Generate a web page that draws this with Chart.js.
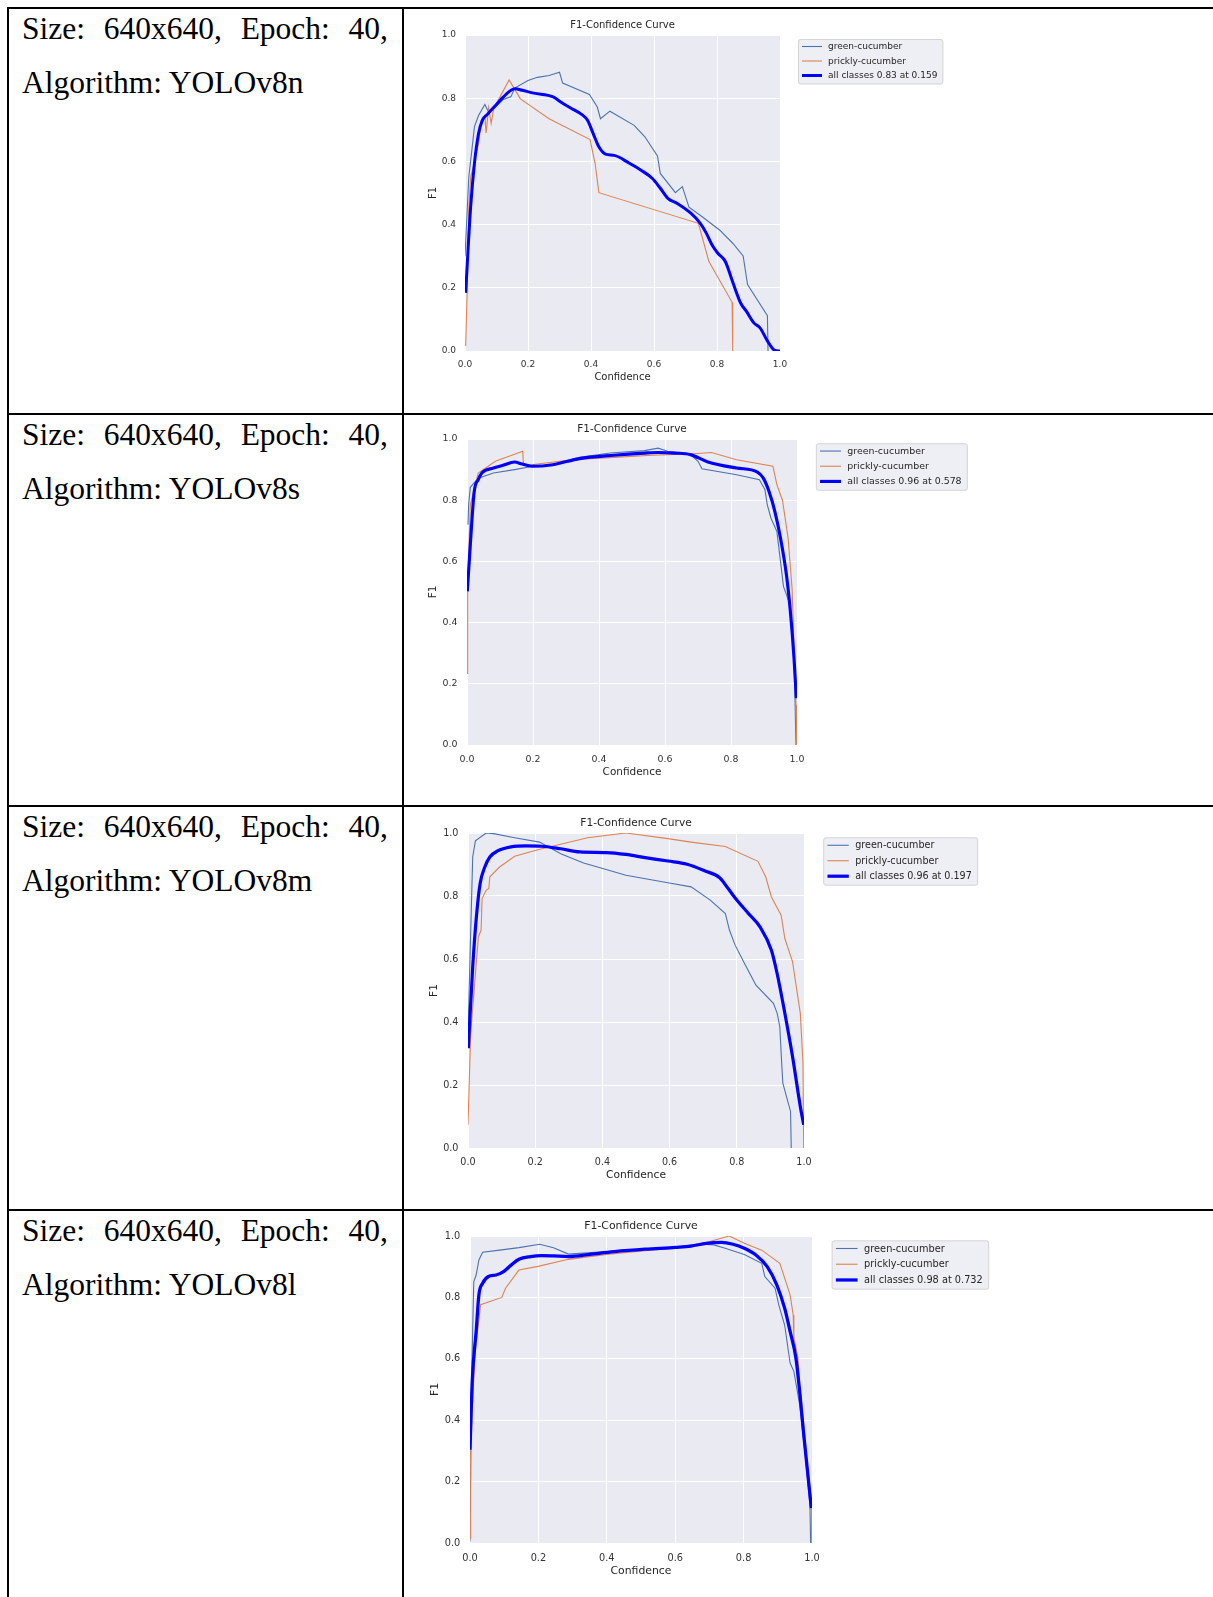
<!DOCTYPE html>
<html>
<head>
<meta charset="utf-8">
<script src="https://cdn.jsdelivr.net/npm/chart.js@4.4.1/dist/chart.umd.min.js"></script>
<style>
  html, body { margin: 0; padding: 0; background: #fff; }
  #page { position: relative; width: 1213px; height: 1597px; overflow: hidden; }
  .rule { position: absolute; background: #000; }
  .cell-text {
    position: absolute; left: 22px; width: 366px;
    font-family: 'Liberation Serif', 'Times New Roman', serif;
    font-size: 31.5px; line-height: 54px; text-align: justify; color: #000;
  }
  canvas { position: absolute; }
</style>
</head>
<body>
<div id="page"></div>
<script>
// ---- data ----
const modelNames = ['YOLOv8n', 'YOLOv8s', 'YOLOv8m', 'YOLOv8l'];
const imgSize = '640x640';
const epochs = 40;
const classNames = ['green-cucumber', 'prickly-cucumber'];
const bestF1 = [0.83, 0.96, 0.96, 0.98];
const bestConf = [0.159, 0.578, 0.197, 0.732];
const tickValues = [0, 0.2, 0.4, 0.6, 0.8, 1.0];

// [confidence, F1]
const v8nGreen = [[0.0,0.3],[0.012,0.55],[0.02,0.62],[0.03,0.71],[0.043,0.745],[0.063,0.78],[0.075,0.756],[0.09,0.765],[0.12,0.795],[0.146,0.805],[0.158,0.832],[0.2,0.856],[0.23,0.866],[0.267,0.872],[0.3,0.882],[0.31,0.848],[0.395,0.812],[0.42,0.772],[0.43,0.735],[0.46,0.759],[0.537,0.714],[0.571,0.678],[0.611,0.617],[0.62,0.562],[0.668,0.501],[0.69,0.52],[0.711,0.455],[0.753,0.425],[0.808,0.383],[0.85,0.341],[0.883,0.301],[0.897,0.21],[0.96,0.112],[0.962,0.0]];
const v8nPrickly = [[0.002,0.016],[0.007,0.19],[0.012,0.45],[0.018,0.55],[0.028,0.59],[0.043,0.656],[0.052,0.73],[0.063,0.745],[0.067,0.69],[0.075,0.77],[0.083,0.72],[0.091,0.767],[0.14,0.858],[0.176,0.798],[0.267,0.735],[0.397,0.669],[0.413,0.594],[0.425,0.501],[0.741,0.404],[0.774,0.284],[0.848,0.154],[0.85,0.0]];
const v8nAll = [[0.002,0.184],[0.018,0.457],[0.03,0.594],[0.043,0.688],[0.055,0.73],[0.073,0.751],[0.097,0.777],[0.122,0.804],[0.146,0.825],[0.159,0.83],[0.182,0.825],[0.219,0.816],[0.28,0.804],[0.304,0.788],[0.334,0.77],[0.37,0.749],[0.389,0.73],[0.407,0.688],[0.425,0.646],[0.446,0.623],[0.474,0.619],[0.522,0.594],[0.559,0.572],[0.595,0.546],[0.62,0.515],[0.644,0.483],[0.674,0.467],[0.717,0.436],[0.747,0.404],[0.766,0.373],[0.784,0.336],[0.802,0.31],[0.826,0.284],[0.851,0.215],[0.875,0.152],[0.893,0.126],[0.917,0.089],[0.936,0.074],[0.96,0.032],[0.982,0.003],[1.0,0.0]];

const v8sGreen = [[0.003,0.72],[0.005,0.785],[0.01,0.842],[0.034,0.872],[0.08,0.889],[0.144,0.9],[0.196,0.91],[0.26,0.916],[0.341,0.94],[0.434,0.954],[0.538,0.962],[0.579,0.97],[0.608,0.96],[0.677,0.949],[0.7,0.927],[0.712,0.903],[0.817,0.883],[0.886,0.867],[0.903,0.834],[0.91,0.785],[0.921,0.742],[0.939,0.698],[0.95,0.6],[0.959,0.518],[0.979,0.458],[0.991,0.294],[0.997,0.0]];
const v8sPrickly = [[0.0,0.234],[0.002,0.5],[0.01,0.785],[0.034,0.889],[0.086,0.927],[0.169,0.96],[0.171,0.916],[0.196,0.916],[0.318,0.932],[0.445,0.94],[0.561,0.947],[0.677,0.951],[0.741,0.956],[0.817,0.932],[0.927,0.911],[0.939,0.851],[0.956,0.8],[0.973,0.676],[0.985,0.513],[0.997,0.131],[0.999,0.0]];
const v8sAll = [[0.001,0.502],[0.01,0.654],[0.022,0.829],[0.034,0.867],[0.045,0.889],[0.08,0.905],[0.109,0.914],[0.144,0.925],[0.167,0.918],[0.196,0.911],[0.26,0.916],[0.341,0.936],[0.445,0.947],[0.538,0.954],[0.579,0.956],[0.631,0.954],[0.677,0.949],[0.73,0.925],[0.817,0.905],[0.88,0.892],[0.898,0.872],[0.915,0.829],[0.933,0.763],[0.95,0.676],[0.968,0.556],[0.979,0.447],[0.991,0.284],[0.998,0.153]];

const v8mGreen = [[0.0,0.364],[0.014,0.924],[0.022,0.975],[0.054,1.0],[0.076,0.998],[0.139,0.985],[0.213,0.971],[0.276,0.934],[0.344,0.905],[0.401,0.887],[0.47,0.866],[0.595,0.842],[0.664,0.829],[0.721,0.787],[0.766,0.744],[0.778,0.692],[0.795,0.644],[0.823,0.586],[0.857,0.517],[0.909,0.459],[0.92,0.428],[0.928,0.385],[0.932,0.301],[0.937,0.206],[0.96,0.116],[0.962,0.0]];
const v8mPrickly = [[0.0,0.074],[0.008,0.364],[0.019,0.512],[0.031,0.67],[0.039,0.692],[0.042,0.792],[0.054,0.818],[0.062,0.824],[0.065,0.861],[0.094,0.892],[0.139,0.926],[0.208,0.947],[0.356,0.985],[0.47,1.0],[0.595,0.982],[0.664,0.971],[0.766,0.957],[0.863,0.91],[0.886,0.861],[0.903,0.797],[0.932,0.739],[0.943,0.665],[0.966,0.591],[0.977,0.512],[0.989,0.428],[0.997,0.269],[0.999,0.0]];
const v8mAll = [[0.001,0.317],[0.014,0.575],[0.025,0.734],[0.036,0.839],[0.05,0.892],[0.065,0.924],[0.088,0.943],[0.128,0.956],[0.173,0.959],[0.219,0.958],[0.276,0.95],[0.333,0.94],[0.413,0.938],[0.47,0.932],[0.527,0.922],[0.595,0.911],[0.652,0.901],[0.704,0.88],[0.749,0.858],[0.772,0.827],[0.8,0.787],[0.835,0.744],[0.869,0.702],[0.903,0.628],[0.92,0.554],[0.943,0.428],[0.966,0.29],[0.989,0.132],[0.999,0.074]];

const v8lGreen = [[0.0,0.005],[0.004,0.5],[0.011,0.851],[0.018,0.873],[0.026,0.922],[0.037,0.947],[0.087,0.954],[0.143,0.962],[0.204,0.973],[0.244,0.962],[0.288,0.941],[0.4,0.949],[0.512,0.957],[0.601,0.963],[0.668,0.974],[0.713,0.971],[0.746,0.96],[0.802,0.94],[0.853,0.911],[0.862,0.868],[0.892,0.83],[0.903,0.775],[0.92,0.71],[0.936,0.586],[0.947,0.559],[0.964,0.45],[0.981,0.277],[0.994,0.125],[0.996,0.0]];
const v8lPrickly = [[0.0,0.016],[0.002,0.3],[0.007,0.45],[0.015,0.62],[0.031,0.776],[0.093,0.8],[0.104,0.83],[0.143,0.889],[0.199,0.901],[0.288,0.924],[0.4,0.94],[0.512,0.952],[0.601,0.96],[0.691,0.979],[0.758,1.0],[0.802,0.976],[0.853,0.954],[0.906,0.911],[0.936,0.808],[0.945,0.743],[0.947,0.667],[0.959,0.602],[0.964,0.515],[0.975,0.396],[0.987,0.244],[0.998,0.146],[0.999,0.0]];
const v8lAll = [[0.0,0.304],[0.007,0.537],[0.018,0.689],[0.026,0.808],[0.037,0.846],[0.054,0.868],[0.076,0.873],[0.098,0.884],[0.121,0.906],[0.143,0.924],[0.177,0.933],[0.21,0.936],[0.244,0.935],[0.288,0.933],[0.355,0.941],[0.422,0.949],[0.512,0.957],[0.601,0.963],[0.646,0.967],[0.691,0.976],[0.735,0.979],[0.769,0.973],[0.802,0.96],[0.836,0.938],[0.869,0.9],[0.897,0.841],[0.92,0.765],[0.936,0.689],[0.953,0.602],[0.964,0.493],[0.975,0.363],[0.987,0.233],[0.998,0.114]];

const curves = [
  [v8nGreen, v8nPrickly, v8nAll],
  [v8sGreen, v8sPrickly, v8sAll],
  [v8mGreen, v8mPrickly, v8mAll],
  [v8lGreen, v8lPrickly, v8lAll]
];

// ---- layout (page pixels) ----
const rowTops = [8, 414, 806, 1210];
const rowBottoms = [414, 806, 1210, 1597];
// plot area of each chart: left, top, right, bottom
const plotBoxes = [[465, 35, 780, 351], [467, 439, 797, 745], [468, 833, 804, 1148], [470, 1236, 812, 1543]];
const canvasLeft = 405;
const canvasWidth = 1213 - canvasLeft;

const page = document.getElementById('page');

function addRule(x, y, w, h) {
  const d = document.createElement('div');
  d.className = 'rule';
  d.style.left = x + 'px'; d.style.top = y + 'px';
  d.style.width = w + 'px'; d.style.height = h + 'px';
  page.appendChild(d);
}

// table lines
rowTops.forEach(y => addRule(7, y - 1, 1213 - 7, 2));
addRule(7, 7, 2, 1597 - 7);
addRule(402, 7, 2, 1597 - 7);

// text cells
rowTops.forEach((y, i) => {
  const d = document.createElement('div');
  d.className = 'cell-text';
  d.style.top = (y - 5.6) + 'px';
  d.textContent = `Size: ${imgSize}, Epoch: ${epochs}, Algorithm: ${modelNames[i]}`;
  page.appendChild(d);
});

Chart.defaults.font.family = '"DejaVu Sans", sans-serif';

const plotBg = {
  id: 'plotBg',
  beforeDraw(chart) {
    const { ctx, chartArea: a } = chart;
    ctx.save();
    ctx.fillStyle = '#eaeaf2';
    ctx.fillRect(a.left, a.top, a.right - a.left, a.bottom - a.top);
    ctx.restore();
  }
};

// matplotlib-like title and legend outside the axes
const mplDecor = {
  id: 'mplDecor',
  afterDraw(chart, args, opts) {
    const { ctx, chartArea: a } = chart;
    const s = opts.s;
    ctx.save();
    ctx.fillStyle = '#262626';
    ctx.font = `${10 * s}px "DejaVu Sans"`;
    ctx.textAlign = 'center';
    ctx.textBaseline = 'middle';
    ctx.fillText('F1-Confidence Curve', (a.left + a.right) / 2, a.top - 9.5 * s);

    ctx.font = `${9 * s}px "DejaVu Sans"`;
    const items = chart.data.datasets;
    const tw = Math.max(...items.map(d => ctx.measureText(d.label).width));
    const x0 = a.right + 18 * s, y0 = a.top + 4 * s;
    const w = 30 * s + tw + 5 * s, h = 44.5 * s;
    ctx.beginPath();
    ctx.roundRect(x0 + 0.5, y0 + 0.5, w, h, 2 * s);
    ctx.fillStyle = 'rgba(234,234,242,0.8)';
    ctx.fill();
    ctx.strokeStyle = 'rgba(204,204,204,0.8)';
    ctx.lineWidth = 1;
    ctx.stroke();
    ctx.textAlign = 'left';
    items.forEach((d, i) => {
      const y = y0 + (7.5 + 14.5 * i) * s;
      ctx.strokeStyle = d.borderColor;
      ctx.lineWidth = d.borderWidth;
      ctx.beginPath();
      ctx.moveTo(x0 + 4 * s, y);
      ctx.lineTo(x0 + 24 * s, y);
      ctx.stroke();
      ctx.fillStyle = '#262626';
      ctx.fillText(d.label, x0 + 30 * s, y + 0.5);
    });
    ctx.restore();
  }
};

function toXY(pts) {
  return pts.map(p => ({ x: p[0], y: p[1] }));
}

plotBoxes.forEach((box, i) => {
  const [L, T, R, B] = box;
  const s = (R - L) / 315;
  const top = rowTops[i] + 2;
  const height = rowBottoms[i] - top - 1;
  const yw = 38 * s, xh = 32 * s;

  const canvas = document.createElement('canvas');
  canvas.width = canvasWidth;
  canvas.height = height;
  canvas.style.left = canvasLeft + 'px';
  canvas.style.top = top + 'px';
  canvas.style.width = canvasWidth + 'px';
  canvas.style.height = height + 'px';
  page.appendChild(canvas);

  const [green, prickly, all] = curves[i];
  const tickFont = { size: 9 * s };
  const labelFont = { size: 10 * s };

  new Chart(canvas, {
    type: 'line',
    data: {
      datasets: [
        { label: classNames[0], data: toXY(green), borderColor: '#4c72b0', borderWidth: 1.1, tension: 0, order: 2 },
        { label: classNames[1], data: toXY(prickly), borderColor: '#dd8452', borderWidth: 1.1, tension: 0, order: 1 },
        { label: `all classes ${bestF1[i].toFixed(2)} at ${bestConf[i].toFixed(3)}`, data: toXY(all),
          borderColor: '#0000ff', borderWidth: 3 * s, cubicInterpolationMode: 'monotone', order: 0 }
      ]
    },
    options: {
      responsive: false,
      animation: false,
      events: [],
      elements: { point: { radius: 0, hoverRadius: 0 } },
      layout: {
        padding: {
          left: L - canvasLeft - yw,
          top: T - top,
          right: canvasLeft + canvasWidth - R,
          bottom: top + height - B - xh
        }
      },
      scales: {
        x: {
          type: 'linear', min: 0, max: 1,
          afterFit: sc => { sc.height = xh; },
          afterBuildTicks: sc => { sc.ticks = tickValues.map(v => ({ value: v })); },
          ticks: { padding: 8.5 * s, font: tickFont, color: '#333', maxRotation: 0, callback: v => v.toFixed(1) },
          grid: { color: '#ffffff', lineWidth: 1, drawTicks: false },
          border: { display: false },
          title: { display: true, text: 'Confidence', font: labelFont, color: '#262626', padding: 0 }
        },
        y: {
          type: 'linear', min: 0, max: 1,
          afterFit: sc => { sc.width = yw; },
          afterBuildTicks: sc => { sc.ticks = tickValues.map(v => ({ value: v })); },
          ticks: { padding: 9 * s, font: tickFont, color: '#333', callback: v => v.toFixed(1) },
          grid: { color: '#ffffff', lineWidth: 1, drawTicks: false },
          border: { display: false },
          title: { display: true, text: 'F1', font: labelFont, color: '#262626', padding: 0 }
        }
      },
      plugins: {
        legend: { display: false },
        tooltip: { enabled: false },
        mplDecor: { s: s }
      }
    },
    plugins: [plotBg, mplDecor]
  });
});
</script>
</body>
</html>
